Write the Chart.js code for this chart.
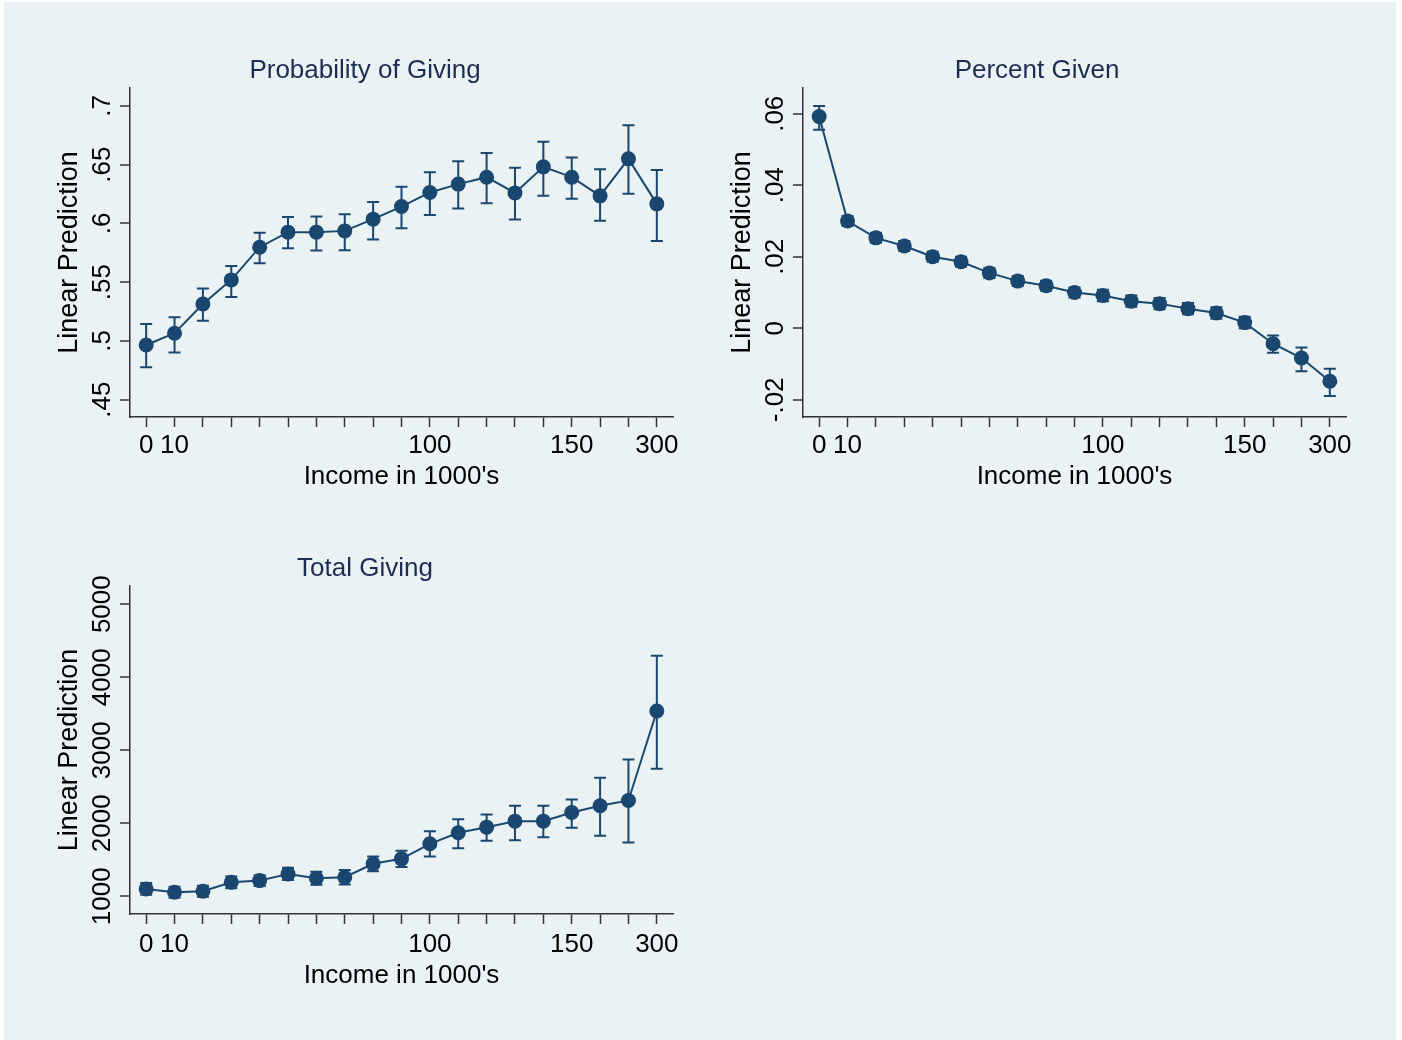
<!DOCTYPE html>
<html>
<head>
<meta charset="utf-8">
<script src="https://cdn.jsdelivr.net/npm/chart.js@4.4.1/dist/chart.umd.min.js"></script>
<style>
  html, body { margin: 0; padding: 0; background: #fff; }
  #frame {
    position: absolute; left: 4px; top: 2px; width: 1392px; height: 1038px;
    background: #eaf2f3;
  }
  canvas { position: absolute; }
</style>
</head>
<body>
<div id="frame"></div>
<canvas id="probChart" width="650" height="470" style="left:40px;top:40px"></canvas>
<canvas id="pctChart" width="650" height="470" style="left:712px;top:40px"></canvas>
<canvas id="totalChart" width="650" height="470" style="left:40px;top:538px"></canvas>
<script>
  // income bins, plotted at equal spacing
  const xValues = [0, 1, 2, 3, 4, 5, 6, 7, 8, 9, 10, 11, 12, 13, 14, 15, 16, 17, 18];
  const xLabels = ["0", "10", "", "", "", "", "", "", "", "", "100", "", "", "", "", "150", "", "", "300"];

  const probMean = [.4966, .5066, .5315, .552, .5798, .5926, .5926, .5937, .6037, .6144, .6264, .6335, .6394, .626, .6482, .6394, .6235, .655, .6167];
  const probLo = [.4776, .4901, .5173, .5375, .5662, .579, .5769, .5773, .5863, .596, .6073, .6127, .6173, .6033, .6235, .621, .6023, .6252, .585];
  const probHi = [.5145, .5202, .5446, .5639, .5922, .6056, .6059, .6079, .6182, .6312, .6437, .653, .6599, .6475, .6695, .6561, .6462, .6837, .6456];
  const probTicks = [.45, .5, .55, .6, .65, .7];
  const probTickLabels = [".45", ".5", ".55", ".6", ".65", ".7"];

  const pctMean = [.0592, .0300, .0253, .0230, .0200, .0186, .0155, .0132, .0119, .0100, .0092, .0076, .0069, .0055, .0043, .0016, -.0043, -.0083, -.0148];
  const pctLo = [.0555, .0286, .0239, .0216, .0186, .0172, .0141, .0118, .0105, .0086, .0076, .0060, .0053, .0039, .0027, .0000, -.0068, -.0120, -.0189];
  const pctHi = [.0622, .0314, .0267, .0244, .0214, .0200, .0169, .0146, .0133, .0114, .0108, .0092, .0085, .0071, .0059, .0032, -.0020, -.0054, -.0113];
  const pctTicks = [-.02, 0, .02, .04, .06];
  const pctTickLabels = ["-.02", "0", ".02", ".04", ".06"];

  const totalMean = [1101, 1055, 1069, 1192, 1215, 1307, 1247, 1261, 1445, 1513, 1719, 1870, 1947, 2029, 2029, 2148, 2240, 2313, 3538];
  const totalLo = [1021, 980, 994, 1112, 1140, 1222, 1157, 1161, 1345, 1403, 1545, 1659, 1760, 1768, 1809, 1938, 1829, 1737, 2748];
  const totalHi = [1181, 1130, 1144, 1272, 1290, 1392, 1337, 1361, 1545, 1623, 1892, 2057, 2121, 2240, 2240, 2327, 2624, 2875, 4293];
  const totalTicks = [1000, 2000, 3000, 4000, 5000];
  const totalTickLabels = ["1000", "2000", "3000", "4000", "5000"];

  const NAVY = "#1a476f";
  const TITLE = "#1c2d52";
  const AXIS = "#333333";
  const GRID = "#eaf2f3";
  const FONT = "'Liberation Sans', Arial, Helvetica, sans-serif";

  function makePanel(id, cfg) {
    // whiskers + all the rotated Stata-style text
    const stataPlugin = {
      id: "stata_" + id,
      beforeDatasetsDraw(chart) {
        const { ctx, scales: { x, y } } = chart;
        ctx.save();
        ctx.strokeStyle = NAVY;
        ctx.lineWidth = 2;
        xValues.forEach((v, i) => {
          const px = x.getPixelForValue(v);
          const top = y.getPixelForValue(cfg.hi[i]);
          const bot = y.getPixelForValue(cfg.lo[i]);
          ctx.beginPath();
          ctx.moveTo(px, top); ctx.lineTo(px, bot);
          ctx.moveTo(px - 6, top); ctx.lineTo(px + 6, top);
          ctx.moveTo(px - 6, bot); ctx.lineTo(px + 6, bot);
          ctx.stroke();
        });
        ctx.restore();
      },
      afterDraw(chart) {
        const { ctx, chartArea: a, scales: { y } } = chart;
        ctx.save();
        // title
        ctx.fillStyle = TITLE;
        ctx.font = "26px " + FONT;
        ctx.textAlign = "center";
        ctx.textBaseline = "alphabetic";
        ctx.fillText(cfg.title, chart.width / 2, a.top - 10);

        // x title
        ctx.fillStyle = "#000";
        ctx.font = "26px " + FONT;
        ctx.fillText("Income in 1000's", (a.left + a.right) / 2, a.bottom + cfg.xTitleGap);

        // y tick labels, rotated
        cfg.ticks.forEach((v, i) => {
          ctx.save();
          ctx.translate(a.left - 20, y.getPixelForValue(v));
          ctx.rotate(-Math.PI / 2);
          ctx.textAlign = "center";
          ctx.textBaseline = "alphabetic";
          ctx.fillText(cfg.tickLabels[i], 0, 0);
          ctx.restore();
        });

        // y title
        ctx.translate(a.left - 60, (a.top + a.bottom) / 2);
        ctx.rotate(-Math.PI / 2);
        ctx.textAlign = "center";
        ctx.textBaseline = "middle";
        ctx.font = "27px " + FONT;
        ctx.fillText("Linear Prediction", 0, 0);
        ctx.restore();
      }
    };

    return new Chart(document.getElementById(id), {
      type: "line",
      data: {
        datasets: [{
          data: xValues.map((v, i) => ({ x: v, y: cfg.mean[i] })),
          borderColor: NAVY,
          borderWidth: 2,
          backgroundColor: NAVY,
          pointRadius: 7.5,
          pointBorderWidth: 0,
          pointBackgroundColor: NAVY,
          tension: 0
        }]
      },
      options: {
        responsive: false,
        animation: false,
        devicePixelRatio: 1,
        layout: { padding: cfg.padding },
        plugins: {
          legend: { display: false },
          tooltip: { enabled: false },
          title: { display: false }
        },
        scales: {
          x: {
            type: "linear",
            min: -0.57,
            max: 18.57,
            afterBuildTicks: s => { s.ticks = xValues.map(v => ({ value: v })); },
            afterFit: s => { s.height = 80; },
            ticks: {
              autoSkip: false,
              maxRotation: 0,
              minRotation: 0,
              padding: cfg.xTickPad,
              color: "#000",
              font: { family: FONT, size: 26 },
              callback: v => xLabels[v] ?? ""
            },
            grid: {
              drawOnChartArea: false,
              drawTicks: true,
              tickLength: 10,
              tickColor: AXIS,
              tickWidth: 1.5
            },
            border: { display: true, color: AXIS, width: 1.5 }
          },
          y: {
            type: "linear",
            min: cfg.min,
            max: cfg.max,
            afterBuildTicks: s => { s.ticks = cfg.ticks.map(v => ({ value: v })); },
            afterFit: s => { s.width = 80; },
            ticks: { display: false },
            grid: {
              color: GRID,
              lineWidth: 2,
              drawTicks: true,
              tickLength: 10,
              tickColor: AXIS,
              tickWidth: 1.5
            },
            border: { display: true, color: AXIS, width: 1.5 }
          }
        }
      },
      plugins: [stataPlugin]
    });
  }

  makePanel("probChart", {
    title: "Probability of Giving",
    mean: probMean, lo: probLo, hi: probHi,
    ticks: probTicks, tickLabels: probTickLabels,
    min: .4353, max: .7153,
    xTickPad: 3, xTitleGap: 67,
    padding: { left: 10, right: 17, top: 48, bottom: 13 }
  });

  makePanel("pctChart", {
    title: "Percent Given",
    mean: pctMean, lo: pctLo, hi: pctHi,
    ticks: pctTicks, tickLabels: pctTickLabels,
    min: -.0248, max: .0672,
    xTickPad: 3, xTitleGap: 67,
    padding: { left: 11, right: 16, top: 48, bottom: 13 }
  });

  makePanel("totalChart", {
    title: "Total Giving",
    mean: totalMean, lo: totalLo, hi: totalHi,
    ticks: totalTicks, tickLabels: totalTickLabels,
    min: 758, max: 5249,
    xTickPad: 5, xTitleGap: 69,
    padding: { left: 10, right: 17, top: 48, bottom: 14 }
  });
</script>
</body>
</html>
